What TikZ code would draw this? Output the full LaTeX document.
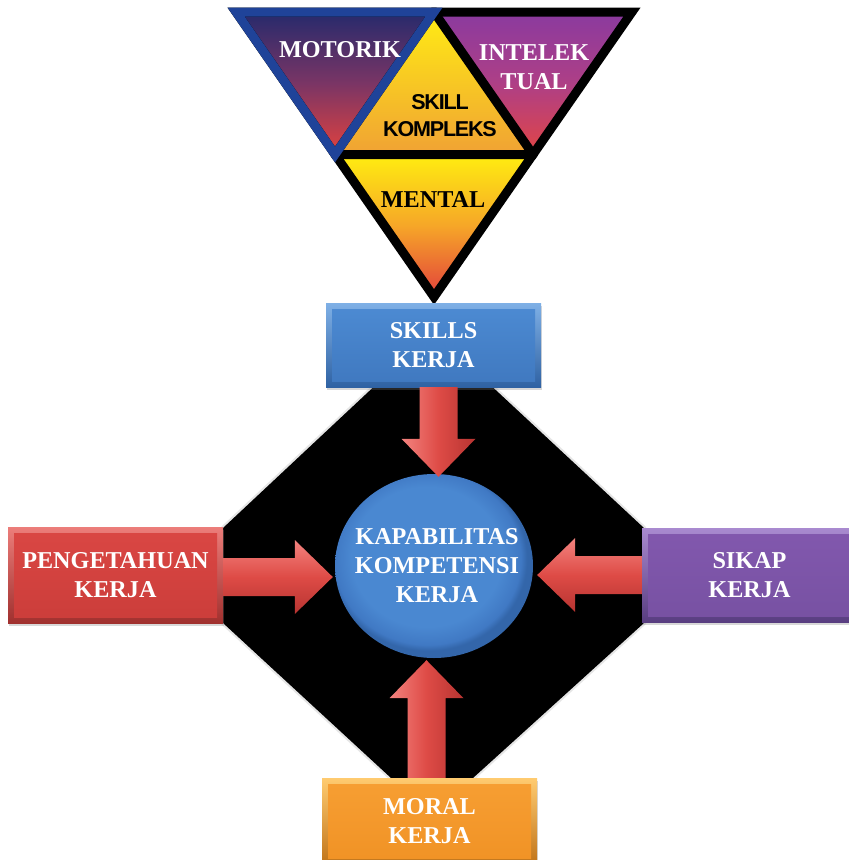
\documentclass[tikz,border=0pt]{standalone}
\usepackage{fontspec}
\setmainfont{Liberation Serif}
\newfontfamily\tightsans{Liberation Sans}[LetterSpace=-5.5]
\usetikzlibrary{calc,shadows,shapes.geometric}

% triangle fills
\definecolor{motTop}{HTML}{262A6C}
\definecolor{motMid}{HTML}{7A3565}
\definecolor{motBot}{HTML}{E2423E}
\definecolor{motEdge}{HTML}{1F4399}
\definecolor{intTop}{HTML}{8A3A9F}
\definecolor{intMid}{HTML}{AE3F86}
\definecolor{intBot}{HTML}{E24545}
\definecolor{skkTop}{HTML}{FFEC14}
\definecolor{skkBot}{HTML}{F0A234}
\definecolor{menTop}{HTML}{FFEE10}
\definecolor{menMid}{HTML}{F6A628}
\definecolor{menBot}{HTML}{E2403C}
% panels
\definecolor{bluLight}{HTML}{7FB0E6}
\definecolor{bluDark}{HTML}{2F62A3}
\definecolor{bluTop}{HTML}{4D8BD3}
\definecolor{bluBot}{HTML}{3F78BF}
\definecolor{redLight}{HTML}{EC7D7A}
\definecolor{redDark}{HTML}{A0302E}
\definecolor{redTop}{HTML}{DA4744}
\definecolor{redBot}{HTML}{CB3D3A}
\definecolor{purLight}{HTML}{A98AD0}
\definecolor{purDark}{HTML}{583D80}
\definecolor{purTop}{HTML}{8258AE}
\definecolor{purBot}{HTML}{7751A2}
\definecolor{orgLight}{HTML}{FFCB70}
\definecolor{orgDark}{HTML}{C0741A}
\definecolor{orgTop}{HTML}{F79F33}
\definecolor{orgBot}{HTML}{F09225}
% arrows and core
\definecolor{arrLight}{HTML}{F3837F}
\definecolor{arrMid}{HTML}{DE4B46}
\definecolor{arrDark}{HTML}{B73431}
\definecolor{coreA}{HTML}{4A88D1}
\definecolor{coreB}{HTML}{4079C4}
\definecolor{coreC}{HTML}{3366AA}

\pgfdeclareradialshading{corefill}{\pgfpoint{-3bp}{4bp}}{color(0bp)=(coreA); color(19bp)=(coreA); color(23.5bp)=(coreB); color(25bp)=(coreC); color(50bp)=(coreC)}

% block arrow from #1 to #2 (named coordinates), canvas angle #3, fill style #4
\newcommand{\blockarrow}[4]{%
  \begin{scope}[shift={(#1)},rotate=#3]
    \path[#4] let \p1=(#1), \p2=(#2), \n1={veclen(\x2-\x1,\y2-\y1)} in
      (0pt,-19pt) -- (\n1-38pt,-19pt) -- (\n1-38pt,-37pt) -- (\n1,0pt)
      -- (\n1-38pt,37pt) -- (\n1-38pt,19pt) -- (0pt,19pt) -- cycle;
  \end{scope}}

\tikzset{
  lbl/.style={font=\bfseries\fontsize{24.2}{29}\selectfont, text=white, align=center},
  panel/.style n args={4}{draw=none, top color=#1, bottom color=#2,
    minimum width=215pt, inner sep=0pt,
    drop shadow={opacity=0.3, shadow xshift=1pt, shadow yshift=-3pt},
    path picture={\fill[top color=#3, bottom color=#4]
      ($(path picture bounding box.north west)+(6pt,-6pt)$) rectangle
      ($(path picture bounding box.south east)+(-6pt,6pt)$);}},
  edge9/.style={line width=9pt, line join=miter},
  arrH/.style={top color=arrLight, bottom color=arrDark, middle color=arrMid},
  arrV/.style={left color=arrLight, right color=arrDark, middle color=arrMid}
}

\begin{document}
\begin{tikzpicture}[x=1pt,y=-1pt]
\useasboundingbox (0,0) rectangle (849,860);
\fill[white] (0,0) rectangle (849,860);

% black octagon behind the centre
\fill[black!25, opacity=0.4] (380,378) -- (486,378) -- (646,527) -- (646,624) -- (474,780) -- (390,780) -- (221,624) -- (221,527) -- cycle;
\fill[black] (381,380) -- (485,380) -- (644,528) -- (644,623) -- (473,778) -- (391,778) -- (223,623) -- (223,528) -- cycle;

% skill triangle
\coordinate (tA) at (236,12);
\coordinate (tB) at (632,12);
\coordinate (tC) at (434,297);
\coordinate (mAB) at ($(tA)!0.5!(tB)$);
\coordinate (mAC) at ($(tA)!0.5!(tC)$);
\coordinate (mBC) at ($(tB)!0.5!(tC)$);
\fill[top color=motTop, bottom color=motBot, middle color=motMid] (tA) -- (mAB) -- (mAC) -- cycle;
\fill[top color=intTop, bottom color=intBot, middle color=intMid] (mAB) -- (tB) -- (mBC) -- cycle;
\fill[top color=skkTop, bottom color=skkBot] (mAB) -- (mBC) -- (mAC) -- cycle;
\fill[top color=menTop, bottom color=menBot, middle color=menMid] (mAC) -- (mBC) -- (tC) -- cycle;
\draw[edge9, black] (tA) -- (tB) -- (tC) -- cycle;
\begin{scope}
  \clip (227.5,7.5) -- (640.5,7.5) -- (434,305) -- cycle;
  \draw[edge9, black] (mAB) -- (mBC) -- (mAC) -- cycle;
  \draw[edge9, motEdge] (tA) -- (mAB) -- (mAC) -- cycle;
\end{scope}

\node[lbl] (mot) at (340,50) {MOTORIK};
\node[lbl] (intel) at (534,67) {INTELEK\\TUAL};
\node[font=\tightsans\bfseries\fontsize{21.5}{27}\selectfont, align=center] (skk) at (440,116) {SKILL\\KOMPLEKS};
\node[lbl, text=black] (mental) at (433,200) {MENTAL};

% panels
\node[panel={bluLight}{bluDark}{bluTop}{bluBot}, minimum height=84pt, lbl] (skills) at (433.5,345) {SKILLS\\KERJA};
\node[panel={redLight}{redDark}{redTop}{redBot}, minimum height=96pt, lbl] (pen) at (115.5,575) {PENGETAHUAN\\KERJA};
\node[panel={purLight}{purDark}{purTop}{purBot}, minimum height=94pt, lbl] (sik) at (749.5,575) {SIKAP\\KERJA};
\node[panel={orgLight}{orgDark}{orgTop}{orgBot}, minimum height=86pt, lbl] (mor) at (429.5,821) {MORAL\\KERJA};

% core
\node[ellipse, minimum width=198pt, minimum height=184pt, inner sep=0pt, shade, shading=corefill] (core) at (434,566) {};
\node[lbl] (coretext) at ($(core.center)+(3,0)$) {KAPABILITAS\\KOMPETENSI\\KERJA};

% arrows into the core
\coordinate (s0) at ($(skills.south)+(5,0)$);
\coordinate (s1) at ($(s0 |- core.north)+(0,3)$);
\coordinate (p0) at ($(pen.east)+(0,2)$);
\coordinate (p1) at ($(p0 -| core.west)+(-2,0)$);
\coordinate (k0) at (sik.west);
\coordinate (k1) at ($(k0 -| core.east)+(4,0)$);
\coordinate (m0) at ($(mor.north)+(-3,0)$);
\coordinate (m1) at ($(m0 |- core.south)+(0,2)$);
\blockarrow{s0}{s1}{-90}{arrV}
\blockarrow{p0}{p1}{0}{arrH}
\blockarrow{k0}{k1}{180}{arrH}
\blockarrow{m0}{m1}{90}{arrV}
\end{tikzpicture}
\end{document}
